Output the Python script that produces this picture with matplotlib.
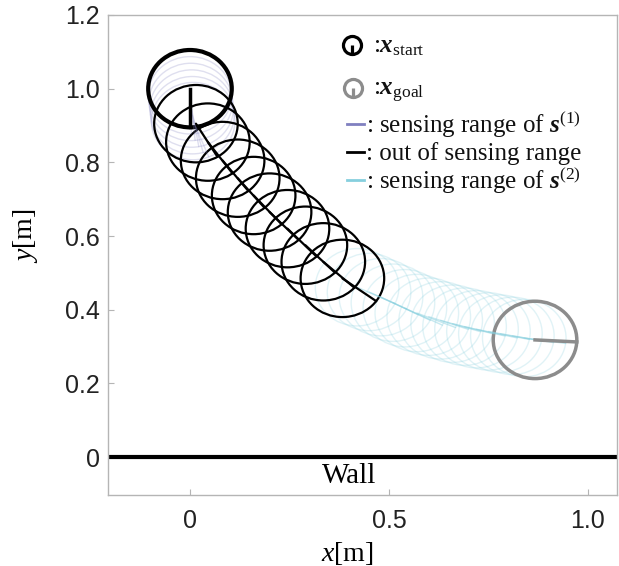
import numpy as np
import matplotlib
matplotlib.use("Agg")
import matplotlib.pyplot as plt
from matplotlib.patches import Circle
from matplotlib.lines import Line2D
from matplotlib.path import Path

plt.rcParams['mathtext.fontset'] = 'custom'
plt.rcParams['mathtext.rm'] = 'Liberation Serif'
plt.rcParams['mathtext.it'] = 'Liberation Serif:italic'
plt.rcParams['mathtext.bf'] = 'Liberation Serif:bold'
plt.rcParams['mathtext.bfit'] = 'Liberation Serif:bold:italic'

# ---- data ----
radius = 0.105
start_pose = [0.0, 1.0, -90.0]
goal_pose = [0.867, 0.318, -3.0]

s1_x = [0.0, 0.0, 0.002, 0.004, 0.006, 0.008]
s1_y = [1.0, 0.982, 0.964, 0.946, 0.928, 0.912]
s1_th = [-90, -88, -84, -80, -75, -68]

out_x = [0.015, 0.045, 0.082, 0.12, 0.16, 0.20, 0.245, 0.29, 0.335, 0.383]
out_y = [0.905, 0.855, 0.805, 0.757, 0.71, 0.665, 0.62, 0.575, 0.530, 0.485]
out_th = [-59, -54, -52, -50, -48, -46, -46, -45, -42, -36]

s2_x = [0.42, 0.45, 0.48, 0.51, 0.54, 0.57, 0.60, 0.63, 0.66, 0.69, 0.72, 0.75, 0.78, 0.81, 0.84, 0.867]
s2_y = [0.461, 0.448, 0.434, 0.419, 0.404, 0.391, 0.381, 0.371, 0.362, 0.354, 0.347, 0.341, 0.335, 0.329, 0.323, 0.318]
s2_th = [-25, -26, -27, -27, -26, -22, -19, -17, -15, -14, -13, -12, -11, -10, -8, -4]

x_ticks = [0, 0.5, 1.0]
x_ticklabels = ["0", "0.5", "1.0"]
y_ticks = [0, 0.2, 0.4, 0.6, 0.8, 1.0, 1.2]
y_ticklabels = ["0", "0.2", "0.4", "0.6", "0.8", "1.0", "1.2"]

c_s1 = '#8080c0'
c_s2 = '#86cfde'
c_goal = '#8c8c8c'

fig = plt.figure(figsize=(6.19, 5.66), dpi=100)
ax = fig.add_axes([108/619, 1-495/566, 509/619, 480/566])
ax.set_xlim(-0.206, 1.073)
ax.set_ylim(-0.103, 1.2)


def robots(xs, ys, ths, color, c_alpha, l_alpha, lw):
    for x, y, th in zip(xs, ys, ths):
        ax.add_patch(Circle((x, y), radius, fill=False, ec=color, alpha=c_alpha, lw=lw))
    for x, y, th in zip(xs, ys, ths):
        t = np.deg2rad(th)
        ax.plot([x, x + radius*np.cos(t)], [y, y + radius*np.sin(t)],
                color=color, alpha=l_alpha, lw=lw, solid_capstyle='round')


robots(s1_x, s1_y, s1_th, c_s1, 0.25, 0.25, 1.0)
robots(s2_x, s2_y, s2_th, c_s2, 0.25, 0.45, 1.0)
robots(out_x, out_y, out_th, 'black', 1.0, 1.0, 1.6)

# start & goal
ax.add_patch(Circle(start_pose[:2], radius, fill=False, ec='black', lw=3))
t = np.deg2rad(start_pose[2])
ax.plot([start_pose[0], start_pose[0] + radius*np.cos(t)],
        [start_pose[1], start_pose[1] + radius*np.sin(t)], color='black', lw=2.5)
ax.add_patch(Circle(goal_pose[:2], radius, fill=False, ec=c_goal, lw=2.5))
t = np.deg2rad(goal_pose[2])
ax.plot([goal_pose[0], goal_pose[0] + radius*np.cos(t)],
        [goal_pose[1], goal_pose[1] + radius*np.sin(t)], color=c_goal, lw=2.5)

# wall
ax.axhline(0, color='black', lw=3)
ax.text(0.40, -0.015, 'Wall', family='Liberation Serif', fontsize=21,
        ha='center', va='top')

# axes styling
for s in ax.spines.values():
    s.set_color('#b5b5b5')
    s.set_linewidth(1.0)
ax.set_xticks(x_ticks, x_ticklabels)
ax.set_yticks(y_ticks, y_ticklabels)
ax.tick_params(direction='in', length=4, color='#b5b5b5', labelsize=18,
               labelcolor='#222222')
ax.tick_params(axis='x', pad=10)
ax.tick_params(axis='y', pad=6)
for lab in ax.get_xticklabels() + ax.get_yticklabels():
    lab.set_family('Liberation Sans')

ax.set_xlabel(r'$x$[m]', family='Liberation Serif', fontsize=20)
ax.set_ylabel(r'$y$[m]', family='Liberation Serif', fontsize=20)
ax.xaxis.set_label_coords(0.47, -0.094)
ax.yaxis.set_label_coords(-0.134, 0.54)


# legend (manual)
def px(xp, yp):
    return (xp - 108) / 509, (495 - yp) / 480


icon = Path.make_compound_path(Path.unit_circle(),
                               Path([(0, 0), (0, -1)], [Path.MOVETO, Path.LINETO]))
for (xp, yp), col in [((352, 45), 'black'), ((353, 88), c_goal)]:
    ax.plot(*px(xp, yp), marker=icon, ms=13, mfc='none', mec=col, mew=2.3,
            transform=ax.transAxes, clip_on=False)

tfont = dict(family='Liberation Serif', fontsize=18, transform=ax.transAxes,
             ha='left', va='baseline', color='#111111')
ax.text(*px(373, 52), r':$\boldsymbol{x}_{\mathrm{start}}$', **tfont)
ax.text(*px(373, 95), r':$\boldsymbol{x}_{\mathrm{goal}}$', **tfont)

rows = [(132, c_s1, r': sensing range of $\boldsymbol{s}^{(1)}$'),
        (160, 'black', ': out of sensing range'),
        (188, c_s2, r': sensing range of $\boldsymbol{s}^{(2)}$')]
for yb, col, txt in rows:
    x0, y0 = px(347, yb - 8)
    x1, _ = px(364, yb - 8)
    ax.add_line(Line2D([x0, x1], [y0, y0], color=col, lw=2, transform=ax.transAxes))
    ax.text(*px(366, yb), txt, **tfont)

fig.savefig('out.png', dpi=100)
